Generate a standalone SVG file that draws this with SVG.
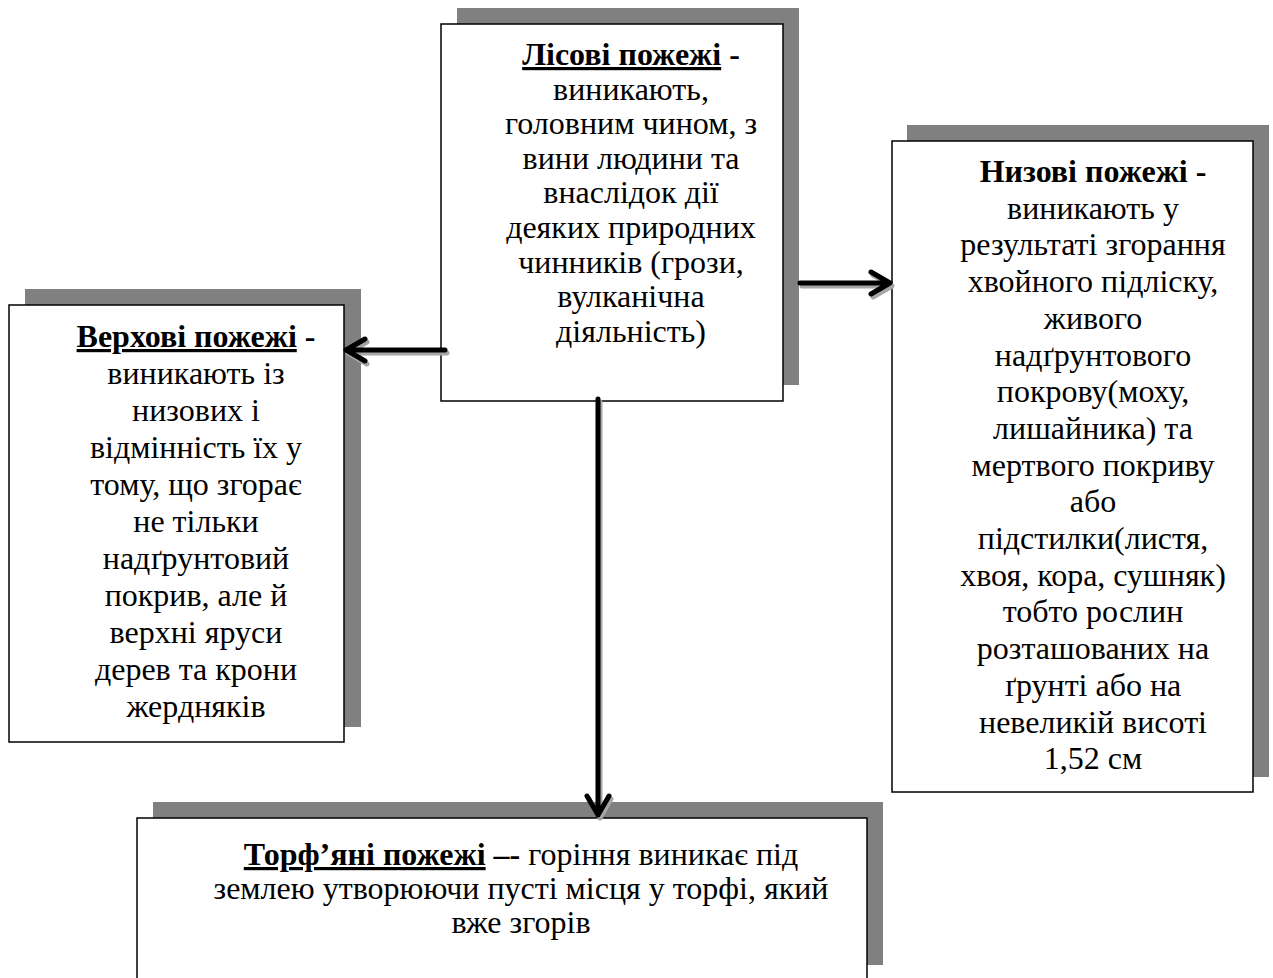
<svg xmlns="http://www.w3.org/2000/svg" width="1273" height="978" viewBox="0 0 1273 978">
<style>
.sh{fill:#808080}
.bx{fill:#fff;stroke:#000;stroke-width:1.5}
.t{font-family:"Liberation Serif","Times New Roman",serif;font-size:32px;fill:#000;text-anchor:middle}
.b{font-weight:bold}
.u{text-decoration:underline}
.ln{fill:none;stroke:#000;stroke-width:5;stroke-linecap:round;stroke-linejoin:round}
.ls{fill:none;stroke:#a6a6a6;stroke-width:5;stroke-linecap:round;stroke-linejoin:round}
</style>
<rect width="1273" height="978" fill="#fff"/>
<g id="node-lisovi">
<rect class="sh" x="457" y="8" width="342" height="377"/>
<rect class="bx" x="441" y="24" width="342" height="377"/>
<text class="t" x="631" y="65"><tspan class="b u">Лісові пожежі</tspan><tspan class="b"> -</tspan></text>
<text class="t" x="631" y="99.6">виникають,</text>
<text class="t" x="631" y="134.2">головним чином, з</text>
<text class="t" x="631" y="168.8">вини людини та</text>
<text class="t" x="631" y="203.4">внаслідок дії</text>
<text class="t" x="631" y="238">деяких природних</text>
<text class="t" x="631" y="272.6">чинників (грози,</text>
<text class="t" x="631" y="307.2">вулканічна</text>
<text class="t" x="631" y="341.8">діяльність)</text>
</g>
<g id="node-nyzovi">
<rect class="sh" x="907" y="125" width="362" height="652"/>
<rect class="bx" x="892" y="141" width="361" height="651"/>
<text class="t b" x="1093" y="182">Низові пожежі -</text>
<text class="t" x="1093" y="218.7">виникають у</text>
<text class="t" x="1093" y="255.4">результаті згорання</text>
<text class="t" x="1093" y="292.1">хвойного підліску,</text>
<text class="t" x="1093" y="328.8">живого</text>
<text class="t" x="1093" y="365.5">надґрунтового</text>
<text class="t" x="1093" y="402.2">покрову(моху,</text>
<text class="t" x="1093" y="438.9">лишайника) та</text>
<text class="t" x="1093" y="475.6">мертвого покриву</text>
<text class="t" x="1093" y="512.3">або</text>
<text class="t" x="1093" y="549">підстилки(листя,</text>
<text class="t" x="1093" y="585.7">хвоя, кора, сушняк)</text>
<text class="t" x="1093" y="622.4">тобто рослин</text>
<text class="t" x="1093" y="659.1">розташованих на</text>
<text class="t" x="1093" y="695.8">ґрунті або на</text>
<text class="t" x="1093" y="732.5">невеликій висоті</text>
<text class="t" x="1093" y="769.2">1,52 см</text>
</g>
<g id="node-verkhovi">
<rect class="sh" x="25" y="289" width="336" height="438"/>
<rect class="bx" x="9" y="305" width="335" height="437"/>
<text class="t" x="196" y="347"><tspan class="b u">Верхові пожежі</tspan><tspan class="b"> -</tspan></text>
<text class="t" x="196" y="384">виникають із</text>
<text class="t" x="196" y="421">низових і</text>
<text class="t" x="196" y="458">відмінність їх у</text>
<text class="t" x="196" y="495">тому, що згорає</text>
<text class="t" x="196" y="532">не тільки</text>
<text class="t" x="196" y="569">надґрунтовий</text>
<text class="t" x="196" y="606">покрив, але й</text>
<text class="t" x="196" y="643">верхні яруси</text>
<text class="t" x="196" y="680">дерев та крони</text>
<text class="t" x="196" y="717">жердняків</text>
</g>
<g id="node-torfiani">
<rect class="sh" x="153" y="802" width="730" height="163"/>
<rect class="bx" x="137" y="818" width="730" height="180"/>
<text class="t" x="521" y="865"><tspan class="b u">Торф’яні пожежі</tspan><tspan class="b"> –-</tspan> горіння виникає під</text>
<text class="t" x="521" y="899">землею утворюючи пусті місця у торфі, який</text>
<text class="t" x="521" y="933">вже згорів</text>
</g>
<g id="connectors">
<g transform="translate(2,3)">
<path class="ls" d="M445 350 H347 M365 339 L346 350 L365 361"/>
<path class="ls" d="M800 283 H889 M871 272 L890 283 L871 294"/>
<path class="ls" d="M598 399 V815 M587 796 L598 815 L609 796"/>
</g>
<path class="ln" d="M445 350 H347 M365 339 L346 350 L365 361"/>
<path class="ln" d="M800 283 H889 M871 272 L890 283 L871 294"/>
<path class="ln" d="M598 399 V815 M587 796 L598 815 L609 796"/>
</g>
</svg>
